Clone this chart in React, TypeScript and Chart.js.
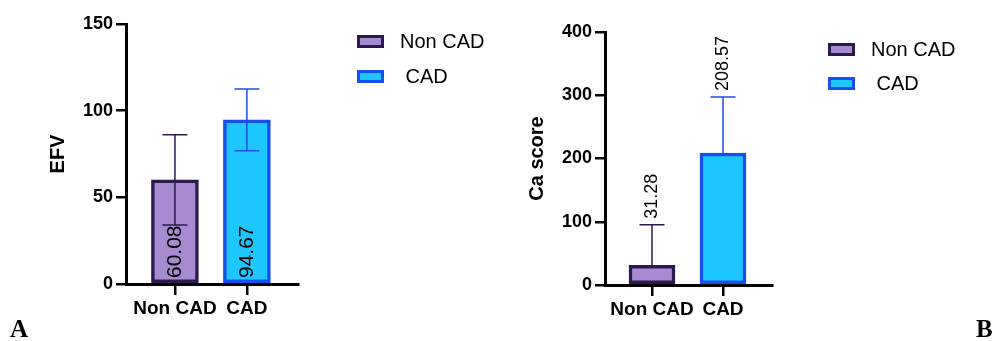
import React, { useEffect, useRef } from "react";
import { Chart, registerables } from "chart.js";

Chart.register(...registerables);

// ---- Data ----
const categories = ["Non CAD", "CAD"];
const legendLabels = ["Non CAD", " CAD"];

const efvMeans = [60.08, 94.67];
const efvSD = [26.0, 17.8];
const efvTicks = [0, 50, 100, 150];

const caMeans = [31.28, 208.57];
const caSD = [64.0, 88.5];
const caTicks = [0, 100, 200, 300, 400];

// ---- Styles ----
const fillColors = ["#A68BD1", "#1DC6FF"];
const borderColors = ["#2C1A4F", "#1450F0"];
const errorColors = ["#2C1A4F", "#1F4FE6"];
const FONT = "'Liberation Sans', Arial, Helvetica, sans-serif";

type PanelCfg = {
  means: number[];
  sd: number[];
  yTicks: number[];
  title: string;
  xMin: number;
  xMax: number;
  barThickness: number;
  yWidth: number;
  titlePad: number;
  padTop: number;
  padRight: number;
  xHeight: number;
  twoSided: boolean;
  labelInside: boolean;
  labelSize: number;
  legendX: number;
  legendY: number;
  legendGap: number;
};

function makeErrorBars(cfg: PanelCfg) {
  return {
    id: "errorBars",
    afterDatasetsDraw(chart: any) {
      const { ctx } = chart;
      const xs = chart.scales.x;
      const ys = chart.scales.y;
      const cap = 25;
      cfg.means.forEach((m, i) => {
        const x = xs.getPixelForValue(i);
        const yTop = ys.getPixelForValue(m + cfg.sd[i]);
        const yBot = cfg.twoSided ? ys.getPixelForValue(m - cfg.sd[i]) : ys.getPixelForValue(m);
        ctx.save();
        ctx.strokeStyle = errorColors[i];
        ctx.lineWidth = 1.5;
        ctx.beginPath();
        ctx.moveTo(x, yTop);
        ctx.lineTo(x, yBot);
        ctx.moveTo(x - cap / 2, yTop);
        ctx.lineTo(x + cap / 2, yTop);
        if (cfg.twoSided) {
          ctx.moveTo(x - cap / 2, yBot);
          ctx.lineTo(x + cap / 2, yBot);
        }
        ctx.stroke();
        ctx.restore();
      });
    },
  };
}

function makeValueLabels(cfg: PanelCfg) {
  return {
    id: "valueLabels",
    afterDatasetsDraw(chart: any) {
      const { ctx } = chart;
      const xs = chart.scales.x;
      const ys = chart.scales.y;
      cfg.means.forEach((m, i) => {
        const x = xs.getPixelForValue(i);
        const y = cfg.labelInside
          ? ys.getPixelForValue(0) - 6
          : ys.getPixelForValue(m + cfg.sd[i]) - 6;
        ctx.save();
        ctx.translate(x, y);
        ctx.rotate(-Math.PI / 2);
        ctx.font = `${cfg.labelSize}px ${FONT}`;
        ctx.fillStyle = "#000";
        ctx.textAlign = "left";
        ctx.textBaseline = "middle";
        ctx.fillText(m.toFixed(2), 0, 0);
        ctx.restore();
      });
    },
  };
}

function makeLegend(cfg: PanelCfg) {
  return {
    id: "customLegend",
    afterDraw(chart: any) {
      const { ctx } = chart;
      legendLabels.forEach((lab, i) => {
        const bx = cfg.legendX;
        const by = cfg.legendY + i * cfg.legendGap;
        ctx.save();
        ctx.fillStyle = fillColors[i];
        ctx.fillRect(bx, by, 27, 13);
        ctx.strokeStyle = borderColors[i];
        ctx.lineWidth = 3;
        ctx.strokeRect(bx + 1.5, by + 1.5, 24, 10);
        ctx.font = `20px ${FONT}`;
        ctx.fillStyle = "#000";
        ctx.textAlign = "left";
        ctx.textBaseline = "middle";
        ctx.fillText(lab, bx + 43, by + 7);
        ctx.restore();
      });
    },
  };
}

function buildConfig(cfg: PanelCfg): any {
  const tickFont = { family: FONT, size: 18, weight: "bold" as const };
  const xTickFont = { family: FONT, size: 19, weight: "bold" as const };
  return {
    type: "bar",
    data: {
      datasets: [
        {
          data: cfg.means.map((m, i) => ({ x: i, y: m })),
          backgroundColor: fillColors,
          borderColor: borderColors,
          borderWidth: 3.5,
          borderSkipped: false,
          barThickness: cfg.barThickness,
        },
      ],
    },
    options: {
      animation: false,
      responsive: false,
      devicePixelRatio: 1,
      layout: { padding: { left: 0, right: cfg.padRight, top: cfg.padTop, bottom: 0 } },
      plugins: { legend: { display: false }, tooltip: { enabled: false } },
      scales: {
        x: {
          type: "linear",
          min: cfg.xMin,
          max: cfg.xMax,
          offset: false,
          z: 1,
          afterBuildTicks: (s: any) => {
            s.ticks = categories.map((_, i) => ({ value: i }));
          },
          afterFit: (s: any) => {
            s.height = cfg.xHeight;
          },
          ticks: {
            callback: (v: any) => categories[v] ?? "",
            font: xTickFont,
            color: "#000",
            padding: 2,
            autoSkip: false,
            maxRotation: 0,
          },
          grid: {
            display: true,
            offset: false,
            drawOnChartArea: false,
            drawTicks: true,
            tickLength: 11,
            color: "#000",
            lineWidth: 2.5,
          },
          border: { display: true, color: "#000", width: 3 },
        },
        y: {
          min: cfg.yTicks[0],
          max: cfg.yTicks[cfg.yTicks.length - 1],
          afterBuildTicks: (s: any) => {
            s.ticks = cfg.yTicks.map((v) => ({ value: v }));
          },
          afterFit: (s: any) => {
            s.width = cfg.yWidth;
          },
          ticks: { font: tickFont, color: "#000", padding: 3 },
          grid: {
            display: true,
            drawOnChartArea: false,
            drawTicks: true,
            tickLength: 10,
            color: "#000",
            lineWidth: 2.5,
          },
          border: { display: true, color: "#000", width: 3 },
          title: {
            display: true,
            text: cfg.title,
            color: "#000",
            font: { family: FONT, size: 20, weight: "bold" },
            padding: { top: cfg.titlePad, bottom: 0 },
          },
        },
      },
    },
    plugins: [makeErrorBars(cfg), makeValueLabels(cfg), makeLegend(cfg)],
  };
}

const panelA: PanelCfg = {
  means: efvMeans,
  sd: efvSD,
  yTicks: efvTicks,
  title: "EFV",
  xMin: -0.68,
  xMax: 1.71,
  barThickness: 47,
  yWidth: 126,
  titlePad: 46,
  padTop: 24,
  padRight: 202,
  xHeight: 57,
  twoSided: true,
  labelInside: true,
  labelSize: 21,
  legendX: 357,
  legendY: 35,
  legendGap: 35,
};

const panelB: PanelCfg = {
  means: caMeans,
  sd: caSD,
  yTicks: caTicks,
  title: "Ca score",
  xMin: -0.662,
  xMax: 1.69,
  barThickness: 46,
  yWidth: 105,
  titlePad: 25,
  padTop: 32,
  padRight: 221,
  xHeight: 56,
  twoSided: false,
  labelInside: false,
  labelSize: 18,
  legendX: 328,
  legendY: 43,
  legendGap: 34,
};

function Panel({ cfg, left, width }: { cfg: PanelCfg; left: number; width: number }) {
  const ref = useRef<HTMLCanvasElement>(null);
  useEffect(() => {
    if (!ref.current) return;
    const chart = new Chart(ref.current, buildConfig(cfg));
    return () => chart.destroy();
  }, [cfg]);
  return (
    <canvas
      ref={ref}
      width={width}
      height={341}
      style={{ position: "absolute", left, top: 0, width, height: 341 }}
    />
  );
}

export default function App() {
  const letter: React.CSSProperties = {
    position: "absolute",
    top: 316,
    fontFamily: "'Liberation Serif', 'Times New Roman', serif",
    fontWeight: "bold",
    fontSize: 25,
    lineHeight: "25px",
    color: "#000",
  };
  return (
    <div
      style={{
        position: "absolute",
        left: 0,
        top: 0,
        width: 993,
        height: 341,
        background: "#fff",
        overflow: "hidden",
      }}
    >
      <Panel cfg={panelA} left={0} width={500} />
      <Panel cfg={panelB} left={500} width={493} />
      <div style={{ ...letter, left: 10 }}>A</div>
      <div style={{ ...letter, left: 976 }}>B</div>
    </div>
  );
}
